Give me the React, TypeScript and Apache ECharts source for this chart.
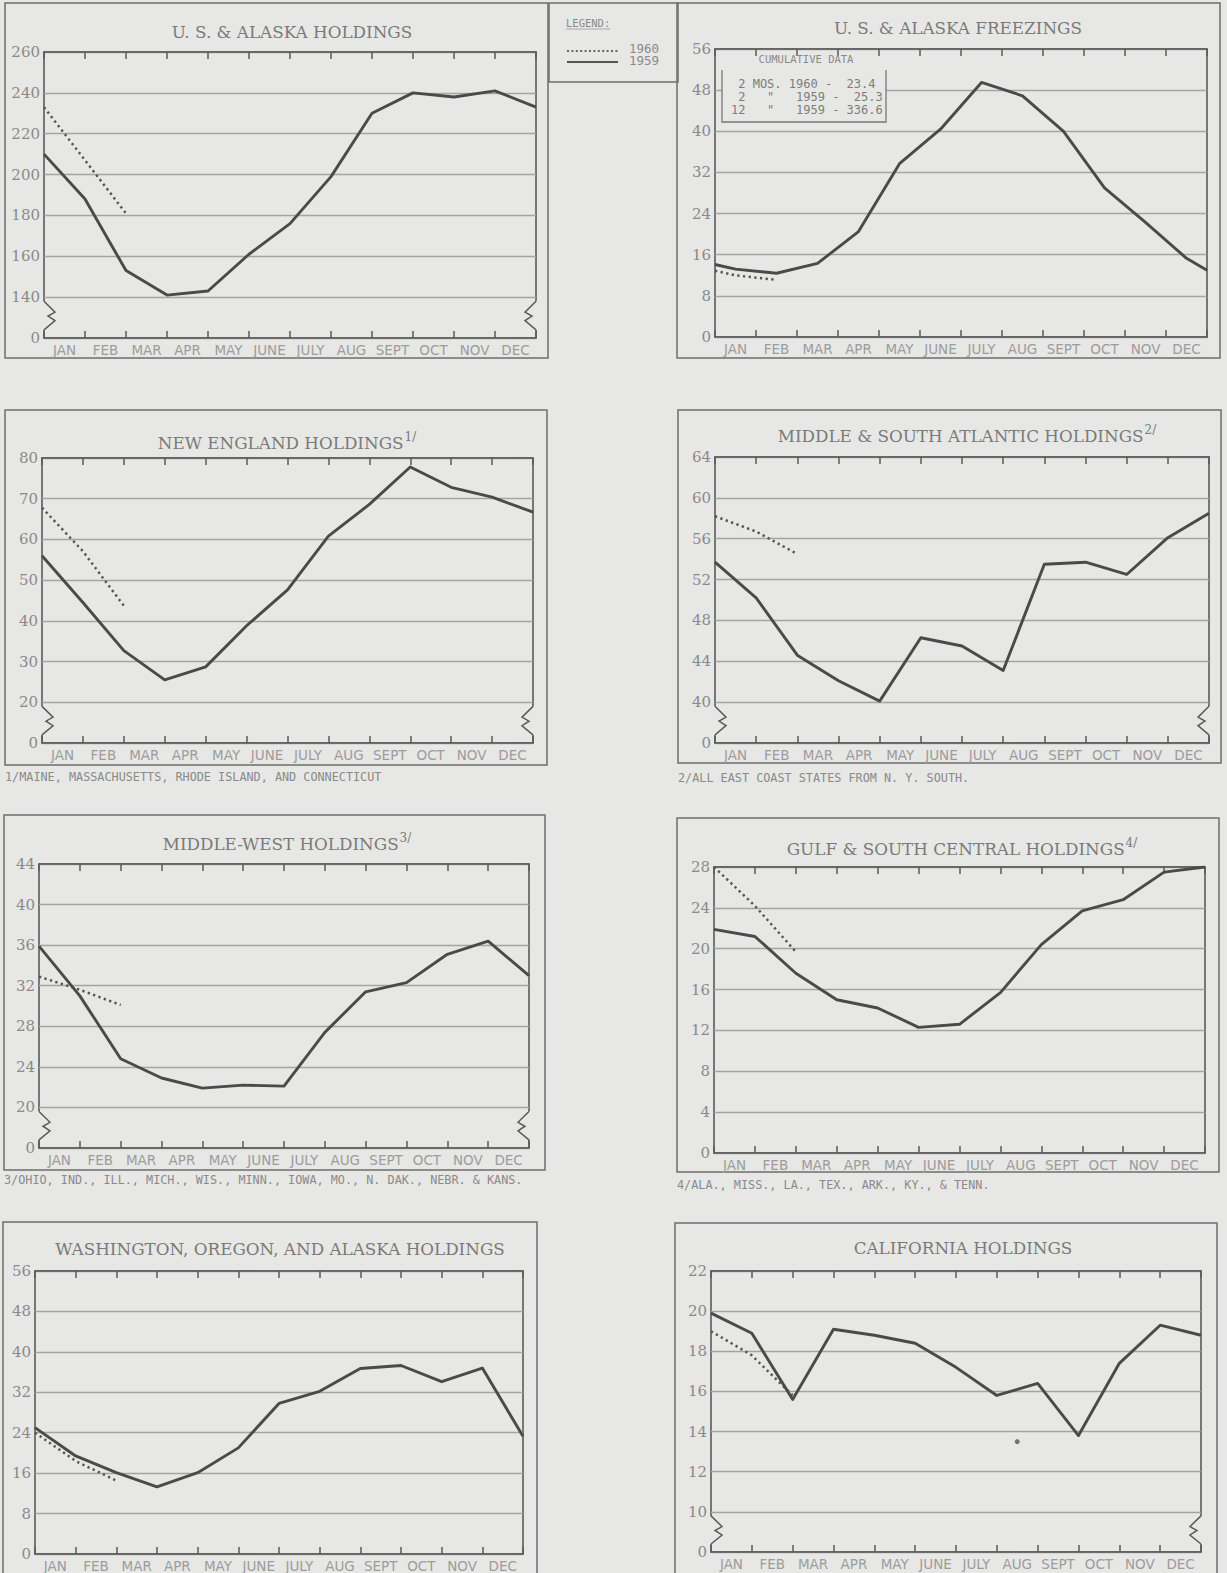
import React, { useEffect, useRef } from 'react';
import * as echarts from 'echarts';

// ---------- data ----------
const months = ['JAN', 'FEB', 'MAR', 'APR', 'MAY', 'JUNE', 'JULY', 'AUG', 'SEPT', 'OCT', 'NOV', 'DEC'];
// holdings are month-end stocks (start of year + 12 month ends)
const monthEnds = [0, 1, 2, 3, 4, 5, 6, 7, 8, 9, 10, 11, 12];
// freezings are monthly totals plotted at mid-month, with the line carried to both edges
const monthMids = [0, 0.5, 1.5, 2.5, 3.5, 4.5, 5.5, 6.5, 7.5, 8.5, 9.5, 10.5, 11.5, 12];

const usHold1959 = [210, 188, 153, 141, 143, 161, 176, 199, 230, 240, 238, 241, 233];
const usHold1960 = [233, 207, 181];
const usFreeze1959 = [14.1, 13.2, 12.4, 14.3, 20.5, 33.7, 40.4, 49.5, 46.9, 40.0, 29.0, 22.3, 15.3, 13.0];
const usFreeze1960 = [12.9, 12.0, 11.1];
const neHold1959 = [56, 44.5, 32.7, 25.5, 28.7, 38.8, 47.6, 60.8, 68.6, 77.8, 72.8, 70.4, 66.7];
const neHold1960 = [67.8, 57.1, 43.7];
const msaHold1959 = [53.7, 50.2, 44.6, 42.1, 40.1, 46.3, 45.5, 43.1, 53.5, 53.7, 52.5, 56.1, 58.5];
const msaHold1960 = [58.2, 56.7, 54.5];
const mwHold1959 = [35.9, 31.0, 24.8, 22.9, 21.9, 22.2, 22.1, 27.4, 31.4, 32.3, 35.1, 36.4, 33.0];
const mwHold1960 = [32.9, 31.6, 30.1];
const gulfHold1959 = [21.9, 21.2, 17.6, 15.0, 14.2, 12.3, 12.6, 15.7, 20.4, 23.7, 24.8, 27.5, 28.0];
const gulfHold1960 = [28.0, 24.2, 19.7];
const waHold1959 = [25.0, 19.4, 16.1, 13.3, 16.1, 21.0, 29.8, 32.2, 36.7, 37.3, 34.1, 36.8, 23.3];
const waHold1960 = [24.0, 18.4, 14.5];
const caHold1959 = [19.9, 18.9, 15.6, 19.1, 18.8, 18.4, 17.2, 15.8, 16.4, 13.8, 17.4, 19.3, 18.8];
const caHold1960 = [19.0, 17.8, 15.8];
const caSpeck = [[7.5, 13.5]];

const cumulativeLines = [
  '\u00A02\u00A0MOS.\u00A01960\u00A0-\u00A0\u00A023.4',
  '\u00A02\u00A0\u00A0\u00A0"\u00A0\u00A0\u00A01959\u00A0-\u00A0\u00A025.3',
  '12\u00A0\u00A0\u00A0"\u00A0\u00A0\u00A01959\u00A0-\u00A0336.6',
];

const footnotes = [
  '1/MAINE, MASSACHUSETTS, RHODE ISLAND, AND CONNECTICUT',
  '2/ALL EAST COAST STATES FROM N. Y. SOUTH.',
  '3/OHIO, IND., ILL., MICH., WIS., MINN., IOWA, MO., N. DAK., NEBR. & KANS.',
  '4/ALA., MISS., LA., TEX., ARK., KY., & TENN.',
];

// x of the broken-axis marks (left edge, right edge) and inward direction
const breakEdges = [[0, 1], [12, -1]];

// ---------- layout & style ----------
const BG = '#e7e7e5';
const INK = '#4a4a4a';
const FRAME = '#5a5a5a';
const GRIDC = '#a4a4a4';
const TXT = '#8a8a8a';

type Panel = {
  title: string; sup: string;
  x: number[]; s59: number[]; s60: number[];
  min: number; max: number; interval: number; brk: boolean;
  plot: [number, number, number, number];
  box: [number, number, number, number];
  tx: number; ty: number;
  foot?: string; fx?: number; fy?: number;
};

const panels: Panel[] = [
  { title: 'U. S. & ALASKA HOLDINGS', sup: '', x: monthEnds, s59: usHold1959, s60: usHold1960,
    min: 120, max: 260, interval: 20, brk: true,
    plot: [44, 52, 492, 286], box: [5, 3, 543, 355], tx: 292, ty: 32 },
  { title: 'U. S. & ALASKA FREEZINGS', sup: '', x: monthMids, s59: usFreeze1959, s60: usFreeze1960,
    min: 0, max: 56, interval: 8, brk: false,
    plot: [715, 49, 492, 288], box: [677, 3, 543, 355], tx: 958, ty: 28 },
  { title: 'NEW ENGLAND HOLDINGS', sup: '1/', x: monthEnds, s59: neHold1959, s60: neHold1960,
    min: 10, max: 80, interval: 10, brk: true,
    plot: [42, 458, 491, 285], box: [5, 410, 542, 355], tx: 287, ty: 441,
    foot: footnotes[0], fx: 5, fy: 777 },
  { title: 'MIDDLE & SOUTH ATLANTIC HOLDINGS', sup: '2/', x: monthEnds, s59: msaHold1959, s60: msaHold1960,
    min: 36, max: 64, interval: 4, brk: true,
    plot: [715, 457, 494, 286], box: [678, 410, 543, 353], tx: 967, ty: 434,
    foot: footnotes[1], fx: 678, fy: 778 },
  { title: 'MIDDLE-WEST HOLDINGS', sup: '3/', x: monthEnds, s59: mwHold1959, s60: mwHold1960,
    min: 16, max: 44, interval: 4, brk: true,
    plot: [39, 864, 490, 284], box: [4, 815, 541, 355], tx: 287, ty: 842,
    foot: footnotes[2], fx: 4, fy: 1180 },
  { title: 'GULF & SOUTH CENTRAL HOLDINGS', sup: '4/', x: monthEnds, s59: gulfHold1959, s60: gulfHold1960,
    min: 0, max: 28, interval: 4, brk: false,
    plot: [714, 867, 491, 286], box: [677, 818, 542, 354], tx: 962, ty: 847,
    foot: footnotes[3], fx: 677, fy: 1185 },
  { title: 'WASHINGTON, OREGON, AND ALASKA HOLDINGS', sup: '', x: monthEnds, s59: waHold1959, s60: waHold1960,
    min: 0, max: 56, interval: 8, brk: false,
    plot: [35, 1271, 488, 284], box: [3, 1222, 534, 400], tx: 280, ty: 1249 },
  { title: 'CALIFORNIA HOLDINGS', sup: '', x: monthEnds, s59: caHold1959, s60: caHold1960,
    min: 8, max: 22, interval: 2, brk: true,
    plot: [711, 1271, 490, 281], box: [675, 1223, 542, 400], tx: 963, ty: 1248 },
];

function buildOption() {
  const grid: any[] = [];
  const xAxis: any[] = [];
  const yAxis: any[] = [];
  const series: any[] = [];
  const graphic: any[] = [];

  panels.forEach((p, i) => {
    grid.push({
      left: p.plot[0], top: p.plot[1], width: p.plot[2], height: p.plot[3],
      show: true, borderColor: FRAME, borderWidth: 1.6, backgroundColor: 'transparent',
    });
    xAxis.push({
      gridIndex: i, type: 'category', data: months, boundaryGap: true, position: 'bottom',
      axisLine: { show: true, lineStyle: { color: FRAME, width: 1.6 } },
      axisTick: { show: true, inside: true, length: 7, interval: 0, lineStyle: { color: FRAME, width: 1.5 } },
      axisLabel: { show: true, interval: 0, color: '#9c9c9c', fontFamily: 'DejaVu Sans', fontSize: 13.5, margin: 5 },
      splitLine: { show: false },
    });
    xAxis.push({
      gridIndex: i, type: 'category', data: months, boundaryGap: true, position: 'top',
      axisLine: { show: true, lineStyle: { color: FRAME, width: 1.6 } },
      axisTick: { show: true, inside: true, length: 7, interval: 0, lineStyle: { color: FRAME, width: 1.5 } },
      axisLabel: { show: false },
      splitLine: { show: false },
    });
    xAxis.push({ gridIndex: i, type: 'value', min: 0, max: 12, show: false });
    yAxis.push({
      gridIndex: i, type: 'value', min: p.min, max: p.max, interval: p.interval,
      axisLine: { show: false }, axisTick: { show: false },
      axisLabel: {
        color: TXT, fontFamily: 'DejaVu Serif', fontSize: 15, margin: 4,
        formatter: (v: number) => (p.brk && v === p.min ? '0' : String(v)),
      },
      splitLine: { show: true, lineStyle: { color: GRIDC, width: 1.3 } },
    });

    const xi = i * 3 + 2;
    series.push({
      type: 'line', name: '1959', xAxisIndex: xi, yAxisIndex: i,
      data: p.x.map((xv, k) => [xv, p.s59[k]]),
      symbol: 'none', z: 4,
      lineStyle: { color: INK, width: 2.9, join: 'round' },
    });
    series.push({
      type: 'line', name: '1960', xAxisIndex: xi, yAxisIndex: i,
      data: p.s60.map((v, k) => [p.x[k], v]),
      symbol: 'none', z: 3,
      lineStyle: { color: '#555', width: 2.5, type: [2.3, 3.4], cap: 'butt' },
    });
    if (p.brk) {
      series.push({
        type: 'custom', xAxisIndex: xi, yAxisIndex: i, clip: false, silent: true, z: 6,
        data: breakEdges,
        renderItem: (params: any, api: any) => {
          const xv = api.value(0);
          const dir = api.value(1);
          const b = api.coord([xv, p.min]);
          const t = api.coord([xv, p.min + p.interval]);
          const h = b[1] - t[1];
          const y0 = t[1] + h * 0.1;
          const y1 = b[1] - h * 0.2;
          const s = y1 - y0;
          const X = b[0];
          return {
            type: 'group',
            children: [
              { type: 'rect', shape: { x: X - 3, y: y0, width: 6, height: s }, style: { fill: BG } },
              {
                type: 'polyline',
                shape: { points: [[X, y0], [X + dir * 11, y0 + s * 0.38], [X + dir * 4, y0 + s * 0.52], [X + dir * 11, y0 + s * 0.68], [X, y1]] },
                style: { stroke: FRAME, lineWidth: 1.5, fill: 'none' },
              },
            ],
          };
        },
      });
    }

    // outer panel box
    graphic.push({
      type: 'rect', silent: true,
      shape: { x: p.box[0], y: p.box[1], width: p.box[2], height: p.box[3] },
      style: { fill: 'none', stroke: '#6e6e6e', lineWidth: 1.5 },
    });
    // title
    graphic.push({
      type: 'text', x: p.tx, y: p.ty, silent: true,
      style: {
        text: p.sup ? `{t|${p.title}}{s|${p.sup}}` : `{t|${p.title}}`,
        align: 'center', verticalAlign: 'middle',
        rich: {
          t: { fontFamily: 'DejaVu Serif', fontSize: 16.8, fill: '#7a7a7a', verticalAlign: 'bottom' },
          s: { fontFamily: 'DejaVu Serif', fontSize: 12, fill: '#7a7a7a', verticalAlign: 'bottom', padding: [0, 0, 9, 1] },
        },
      },
    });
    if (p.foot) {
      graphic.push({
        type: 'text', x: p.fx, y: p.fy, silent: true,
        style: { text: p.foot, fontFamily: 'DejaVu Sans Mono', fontSize: 11.8, fill: '#8a8a8a', verticalAlign: 'middle' },
      });
    }
  });

  // California speck
  series.push({
    type: 'scatter', xAxisIndex: 7 * 3 + 2, yAxisIndex: 7, data: caSpeck,
    symbol: 'circle', symbolSize: 5, itemStyle: { color: '#555' }, silent: true, z: 4,
  });

  // legend box
  graphic.push(
    { type: 'rect', silent: true, shape: { x: 549, y: 3, width: 129, height: 79 }, style: { fill: 'none', stroke: '#6e6e6e', lineWidth: 1.5 } },
    { type: 'text', x: 566, y: 23, silent: true, style: { text: 'LEGEND:', fontFamily: 'DejaVu Sans Mono', fontSize: 10.5, fill: '#8a8a8a', verticalAlign: 'middle' } },
    { type: 'line', silent: true, shape: { x1: 566, y1: 29, x2: 610, y2: 29 }, style: { stroke: '#999', lineWidth: 0.8 } },
    { type: 'line', silent: true, shape: { x1: 567, y1: 51, x2: 618, y2: 51 }, style: { stroke: '#666', lineWidth: 2, lineDash: [2, 2.4] } },
    { type: 'text', x: 629, y: 48, silent: true, style: { text: '1960', fontFamily: 'DejaVu Sans Mono', fontSize: 12.5, fill: '#8a8a8a', verticalAlign: 'middle' } },
    { type: 'line', silent: true, shape: { x1: 567, y1: 62, x2: 618, y2: 62 }, style: { stroke: '#555', lineWidth: 2 } },
    { type: 'text', x: 629, y: 60, silent: true, style: { text: '1959', fontFamily: 'DejaVu Sans Mono', fontSize: 12.5, fill: '#8a8a8a', verticalAlign: 'middle' } },
  );

  // cumulative data box in freezings panel (opaque, hides the gridline behind it)
  graphic.push(
    { type: 'rect', silent: true, z: 10, shape: { x: 722, y: 68, width: 164, height: 54 }, style: { fill: BG, stroke: 'none' } },
    { type: 'polyline', silent: true, z: 11, shape: { points: [[722, 70], [722, 122], [886, 122], [886, 70]] }, style: { stroke: '#777', lineWidth: 1.3, fill: 'none' } },
    { type: 'text', x: 806, y: 59, silent: true, z: 11, style: { text: 'CUMULATIVE DATA', fontFamily: 'DejaVu Sans Mono', fontSize: 10.5, fill: '#8a8a8a', align: 'center', verticalAlign: 'middle' } },
  );
  cumulativeLines.forEach((line, k) => {
    graphic.push({
      type: 'text', x: 731, y: 84 + k * 13, silent: true, z: 11,
      style: { text: line, fontFamily: 'DejaVu Sans Mono', fontSize: 12, fill: '#7d7d7d', verticalAlign: 'middle' },
    });
  });

  return {
    animation: false,
    backgroundColor: BG,
    grid, xAxis, yAxis, series, graphic,
  };
}

export default function App() {
  const ref = useRef<HTMLDivElement>(null);
  useEffect(() => {
    document.body.style.margin = '0';
    const chart = echarts.init(ref.current!, undefined, { renderer: 'svg' });
    chart.setOption(buildOption() as any);
    return () => chart.dispose();
  }, []);
  return <div ref={ref} style={{ width: 1227, height: 1573 }} />;
}
